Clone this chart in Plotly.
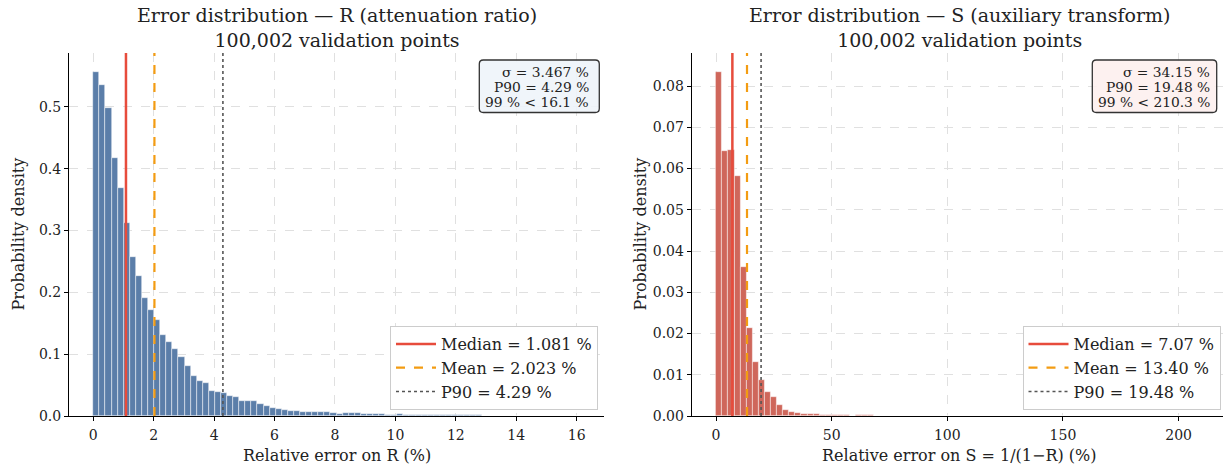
import numpy as np
import plotly.graph_objects as go

# ---------------- data ----------------
R_P99 = 16.1
S_P99 = 210.3
N_BINS = 80

R_DENSITY = [
    0.556, 0.535, 0.498, 0.417, 0.368, 0.312, 0.257, 0.227, 0.191, 0.171,
    0.156, 0.131, 0.120, 0.108, 0.096, 0.081, 0.064, 0.057, 0.053, 0.041,
    0.039, 0.037, 0.033, 0.031, 0.025, 0.024, 0.024, 0.019, 0.0156, 0.0129,
    0.0108, 0.0092, 0.0086, 0.0086, 0.0070, 0.0059, 0.0059, 0.0059, 0.0059, 0.0054,
    0.0032, 0.0048, 0.0043, 0.0043, 0.0027, 0.0027, 0.0032, 0.0038, 0.0022, 0.0022,
    0.0027, 0.0020, 0.0018, 0.0016, 0.0015, 0.0015, 0.0013, 0.0012, 0.0012, 0.0011,
    0.0010, 0.0010, 0.0009, 0.0009, 0.0008, 0.0007, 0.0004, 0.0004, 0.0003, 0.0003,
    0.0003, 0.0002, 0.0002, 0.0002, 0.0002, 0.0001, 0.0001, 0.0001, 0.0001, 0.0001,
]
S_DENSITY = [
    0.0834, 0.0643, 0.0646, 0.0583, 0.0361, 0.0213, 0.0132, 0.0087, 0.0059, 0.0045,
    0.0027, 0.0014, 0.0010, 0.0007, 0.0006, 0.0006, 0.0005, 0.0003, 0.0002, 0.0002,
    0.0002, 0.0002, 0.0001, 0.0002, 0.0003, 0.0002, 0.0001, 0.0001, 0.00005, 0.00005,
    0.00004, 0.00004, 0.00003, 0.00003, 0.00003, 0.00002, 0.00002, 0.00002, 0.00002, 0.00002,
    0.00002, 0.00001, 0.00001, 0.00001, 0.00001, 0.00001, 0.00001, 0.00001, 0.00001, 0.00001,
    0.00001, 0.00001, 0.00001, 0.00001, 0.00001, 0.00001, 0.00001, 0.00001, 0.00001, 0.00001,
    0.00001, 0.00001, 0.00001, 0.00001, 0.00001, 0.00001, 0.00001, 0.00001, 0.00001, 0.00001,
    0.00001, 0.00001, 0.00001, 0.00001, 0.00001, 0.00001, 0.00001, 0.00001, 0.00001, 0.00001,
]

R_MEDIAN, R_MEAN, R_P90, R_SIGMA = 1.081, 2.023, 4.29, 3.467
S_MEDIAN, S_MEAN, S_P90, S_SIGMA = 7.07, 13.40, 19.48, 34.15

R_XTICKS = [0, 2, 4, 6, 8, 10, 12, 14, 16]
S_XTICKS = [0, 50, 100, 150, 200]
R_YTICKS = [0.0, 0.1, 0.2, 0.3, 0.4, 0.5]
S_YTICKS = [0.00, 0.01, 0.02, 0.03, 0.04, 0.05, 0.06, 0.07, 0.08]

TITLE_R = "Error distribution — R (attenuation ratio)<br>100,002 validation points"
TITLE_S = "Error distribution — S (auxiliary transform)<br>100,002 validation points"
XLABEL_R = "Relative error on R (%)"
XLABEL_S = "Relative error on S = 1/(1−R) (%)"
YLABEL = "Probability density"

# ---------------- layout helpers ----------------
W, H = 1223, 468
FONT = "DejaVu Serif"
TXT = "#222222"


def px(x):
    return x / W


def py(y):
    return 1 - y / H


AX_TOP, AX_BOT = 53, 416
L_X0, L_X1 = 69, 604
R_X0, R_X1 = 691.7, 1223

R_YMAX = 0.587
S_YMAX = 0.088
R_XRANGE = [-0.805, 16.905]
S_XRANGE = [-10.515, 219.2]

fig = go.Figure()


def add_hist(dens, p99, color, xa, ya):
    edges = np.linspace(0, p99, N_BINS + 1)
    centers = (edges[:-1] + edges[1:]) / 2
    width = edges[1] - edges[0]
    fig.add_trace(go.Bar(
        x=centers, y=dens, width=width,
        marker=dict(color=color, line=dict(color="rgba(255,255,255,0.8)", width=0.6)),
        xaxis=xa, yaxis=ya, showlegend=False, hoverinfo="skip",
    ))


def add_vlines(median, mean, p90, ymax, xa, ya, legend, fmt_med, fmt_mean, fmt_p90):
    specs = [
        (median, "#e74c3c", "solid", 2.5, f"Median = {fmt_med} %"),
        (mean, "#f39c12", "dash", 2.2, f"Mean = {fmt_mean} %"),
        (p90, "#555555", "dot", 1.6, f"P90 = {fmt_p90} %"),
    ]
    for v, c, d, w, name in specs:
        fig.add_trace(go.Scatter(
            x=[v, v], y=[0, ymax], mode="lines",
            line=dict(color=c, dash=d, width=w),
            name=name, xaxis=xa, yaxis=ya, legend=legend, hoverinfo="skip",
        ))


add_hist(R_DENSITY, R_P99, "#5b7ea9", "x", "y")
add_hist(S_DENSITY, S_P99, "#cf675b", "x2", "y2")
add_vlines(R_MEDIAN, R_MEAN, R_P90, R_YMAX, "x", "y", "legend",
           f"{R_MEDIAN:.3f}", f"{R_MEAN:.3f}", f"{R_P90:.2f}")
add_vlines(S_MEDIAN, S_MEAN, S_P90, S_YMAX, "x2", "y2", "legend2",
           f"{S_MEDIAN:.2f}", f"{S_MEAN:.2f}", f"{S_P90:.2f}")

axis_common = dict(
    showline=True, linecolor="black", linewidth=1, automargin=False,
    ticks="outside", ticklen=4, tickwidth=1, tickcolor="black",
    showgrid=True, gridcolor="#e0e0e0", griddash="dash", gridwidth=1,
    zeroline=False, tickfont=dict(family=FONT, size=14, color=TXT),
)

legend_common = dict(
    xanchor="right", yanchor="bottom", bgcolor="white",
    bordercolor="#cccccc", borderwidth=1, itemwidth=40,
    font=dict(family=FONT, size=16, color=TXT),
)

fig.update_layout(
    width=W, height=H,
    margin=dict(l=0, r=0, t=0, b=0, autoexpand=False),
    paper_bgcolor="white", plot_bgcolor="white",
    font=dict(family=FONT, color=TXT),
    bargap=0,
    xaxis=dict(domain=[px(L_X0), px(L_X1)], range=R_XRANGE, tickvals=R_XTICKS,
               anchor="y", ticklabelstandoff=2, **axis_common),
    yaxis=dict(domain=[py(AX_BOT), py(AX_TOP)], range=[0, R_YMAX], tickvals=R_YTICKS,
               tickformat=".1f", anchor="x", **axis_common),
    xaxis2=dict(domain=[px(R_X0), px(R_X1)], range=S_XRANGE, tickvals=S_XTICKS,
                anchor="y2", ticklabelstandoff=2, **axis_common),
    yaxis2=dict(domain=[py(AX_BOT), py(AX_TOP)], range=[0, S_YMAX], tickvals=S_YTICKS,
                tickformat=".2f", anchor="x2", **axis_common),
    legend=dict(x=px(598), y=py(410), **legend_common),
    legend2=dict(x=px(1220.5), y=py(410), **legend_common),
)


def rounded_rect(x0, y0, x1, y1, r=4):
    # pixel box -> paper path with rounded corners
    X = lambda v: f"{px(v):.5f}"
    Y = lambda v: f"{py(v):.5f}"
    return (f"M{X(x0 + r)},{Y(y0)} L{X(x1 - r)},{Y(y0)} Q{X(x1)},{Y(y0)} {X(x1)},{Y(y0 + r)} "
            f"L{X(x1)},{Y(y1 - r)} Q{X(x1)},{Y(y1)} {X(x1 - r)},{Y(y1)} "
            f"L{X(x0 + r)},{Y(y1)} Q{X(x0)},{Y(y1)} {X(x0)},{Y(y1 - r)} "
            f"L{X(x0)},{Y(y0 + r)} Q{X(x0)},{Y(y0)} {X(x0 + r)},{Y(y0)} Z")


shapes = [
    dict(type="path", xref="paper", yref="paper", path=rounded_rect(479.3, 60, 599.3, 112.5),
         fillcolor="rgba(238,244,250,0.9)", line=dict(color="#333333", width=1.3), layer="above"),
    dict(type="path", xref="paper", yref="paper", path=rounded_rect(1092.3, 60, 1216.7, 112.5),
         fillcolor="rgba(253,240,238,0.9)", line=dict(color="#333333", width=1.3), layer="above"),
]
fig.update_layout(shapes=shapes)

annotations = [
    dict(text=TITLE_R, x=px((L_X0 + L_X1) / 2), y=py(2), xanchor="center", yanchor="top",
         font=dict(family=FONT, size=19, color=TXT)),
    dict(text=TITLE_S, x=px(959), y=py(2), xanchor="center", yanchor="top",
         font=dict(family=FONT, size=19, color=TXT)),
    dict(text=XLABEL_R, x=px((L_X0 + L_X1) / 2), y=py(455), xanchor="center", yanchor="middle",
         font=dict(family=FONT, size=16, color=TXT)),
    dict(text=XLABEL_S, x=px(959), y=py(455), xanchor="center", yanchor="middle",
         font=dict(family=FONT, size=16, color=TXT)),
    dict(text=YLABEL, x=px(18), y=py((AX_TOP + AX_BOT) / 2), textangle=-90,
         xanchor="center", yanchor="middle", font=dict(family=FONT, size=16, color=TXT)),
    dict(text=YLABEL, x=px(640), y=py((AX_TOP + AX_BOT) / 2), textangle=-90,
         xanchor="center", yanchor="middle", font=dict(family=FONT, size=16, color=TXT)),
]

box_lines = [
    (589.5, [f"σ = {R_SIGMA:.3f} %", f"P90 = {R_P90:.2f} %", f"99 % &lt; {R_P99:.1f} %"]),
    (1210.7, [f"σ = {S_SIGMA:.2f} %", f"P90 = {S_P90:.2f} %", f"99 % &lt; {S_P99:.1f} %"]),
]
for xr, lines in box_lines:
    for yc, t in zip([71.5, 86.5, 101.5], lines):
        annotations.append(dict(text=t, x=px(xr), y=py(yc), xanchor="right", yanchor="middle",
                                align="right", borderpad=0,
                                font=dict(family=FONT, size=13.8, color=TXT)))

for a in annotations:
    a.setdefault("xref", "paper")
    a.setdefault("yref", "paper")
    a.setdefault("showarrow", False)
fig.update_layout(annotations=annotations)

fig.write_html("out.html")
